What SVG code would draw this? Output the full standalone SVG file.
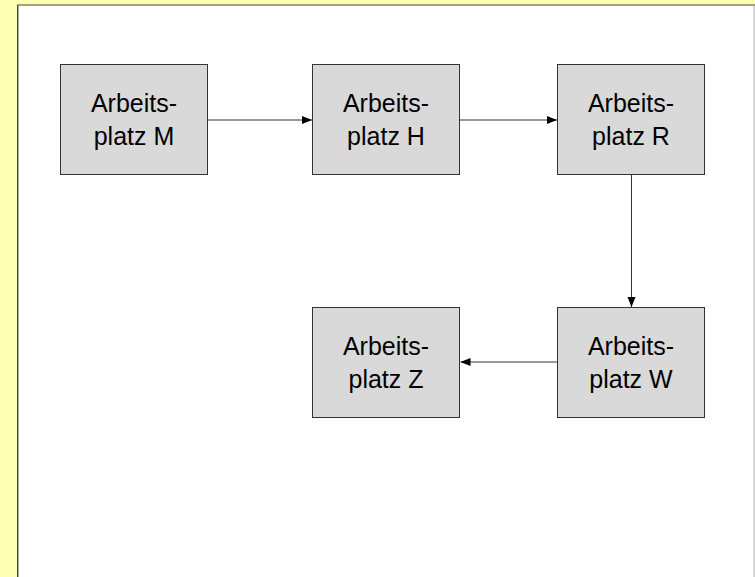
<svg xmlns="http://www.w3.org/2000/svg" width="755" height="577" viewBox="0 0 755 577">
  <style>
    .box rect { fill: #d9d9d9; stroke: #333333; stroke-width: 1; }
    .box text { font-family: "Liberation Sans", Arial, sans-serif; font-size: 25px; fill: #000000; text-anchor: middle; }
    .conn line { stroke: #333333; stroke-width: 1; fill: none; marker-end: url(#arrow); }
  </style>
  <defs>
    <marker id="arrow" viewBox="0 0 10 10" refX="10" refY="5" markerWidth="10" markerHeight="10" markerUnits="userSpaceOnUse" orient="auto">
      <path d="M0,1 L10,5 L0,9 Z" fill="#000000"/>
    </marker>
  </defs>

  <!-- page background and sheet -->
  <rect x="0" y="0" width="755" height="577" fill="#ffffb3"/>
  <rect x="18" y="5.5" width="737" height="572" fill="#ffffff"/>
  <line x1="17.5" y1="5" x2="17.5" y2="577" stroke="#444444" stroke-width="1"/>
  <line x1="18.5" y1="6" x2="18.5" y2="577" stroke="#aaaaaa" stroke-width="1"/>
  <line x1="17" y1="5" x2="755" y2="5" stroke="#444444" stroke-width="1"/>
  <line x1="754" y1="6" x2="754" y2="577" stroke="#b0b0b0" stroke-width="1"/>

  <!-- connectors -->
  <g id="connectors" class="conn">
    <line x1="207.5" y1="120" x2="312" y2="120"/>
    <line x1="460" y1="120" x2="557" y2="120"/>
    <line x1="631.5" y1="175" x2="631.5" y2="307"/>
    <line x1="557" y1="362" x2="460.5" y2="362"/>
  </g>

  <g id="node-m" class="box">
    <rect x="60.5" y="64.5" width="147" height="110"/>
    <text x="134" y="111.5">Arbeits-</text>
    <text x="134" y="144.5">platz M</text>
  </g>
  <g id="node-h" class="box">
    <rect x="312.5" y="64.5" width="147" height="110"/>
    <text x="386" y="111.5">Arbeits-</text>
    <text x="386" y="144.5">platz H</text>
  </g>
  <g id="node-r" class="box">
    <rect x="557.5" y="64.5" width="147" height="110"/>
    <text x="631" y="111.5">Arbeits-</text>
    <text x="631" y="144.5">platz R</text>
  </g>
  <g id="node-w" class="box">
    <rect x="557.5" y="307.5" width="147" height="110"/>
    <text x="631" y="354.5">Arbeits-</text>
    <text x="631" y="387.5">platz W</text>
  </g>
  <g id="node-z" class="box">
    <rect x="312.5" y="307.5" width="147" height="110"/>
    <text x="386" y="354.5">Arbeits-</text>
    <text x="386" y="387.5">platz Z</text>
  </g>
</svg>
